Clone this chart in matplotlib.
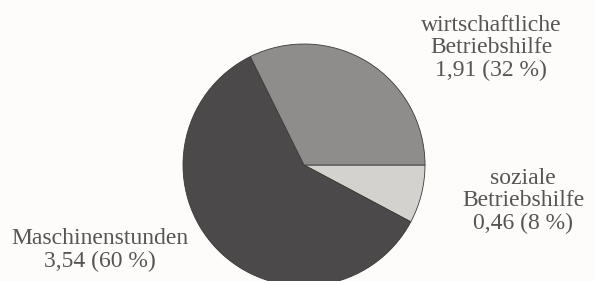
import matplotlib
matplotlib.use('Agg')
import matplotlib.pyplot as plt

# Anteile an der Betriebshilfe
namen = ['soziale\nBetriebshilfe', 'Maschinenstunden', 'wirtschaftliche\nBetriebshilfe']
werte = [0.46, 3.54, 1.91]
prozent = [8, 60, 32]
farben = ['#d3d2ce', '#4b4949', '#8e8d8c']

fig = plt.figure(figsize=(5.95, 2.81), dpi=100)
fig.patch.set_facecolor('#fdfcfa')
ax = fig.add_axes([0, 0, 1, 1])

ax.pie(werte, colors=farben, startangle=0, counterclock=False,
       center=(304, 116), radius=121, frame=True,
       wedgeprops=dict(edgecolor='#3a3a3a', linewidth=0.6))
ax.set_xlim(0, 595)
ax.set_ylim(0, 281)
ax.set_aspect('equal')
ax.axis('off')

# Beschriftungen (Mitte des Blocks in Pixeln, y von oben)
pos = [(523, 201), (100, 250), (491, 48)]
for name, w, p, (x, y) in zip(namen, werte, prozent, pos):
    txt = name + '\n' + ('%.2f' % w).replace('.', ',') + ' (%d %%)' % p
    ax.text(x, 281 - y, txt, ha='center', va='center', fontsize=17,
            family='Liberation Serif', color='#575453', linespacing=1.1)

fig.savefig('out.png', dpi=100, facecolor=fig.get_facecolor())
